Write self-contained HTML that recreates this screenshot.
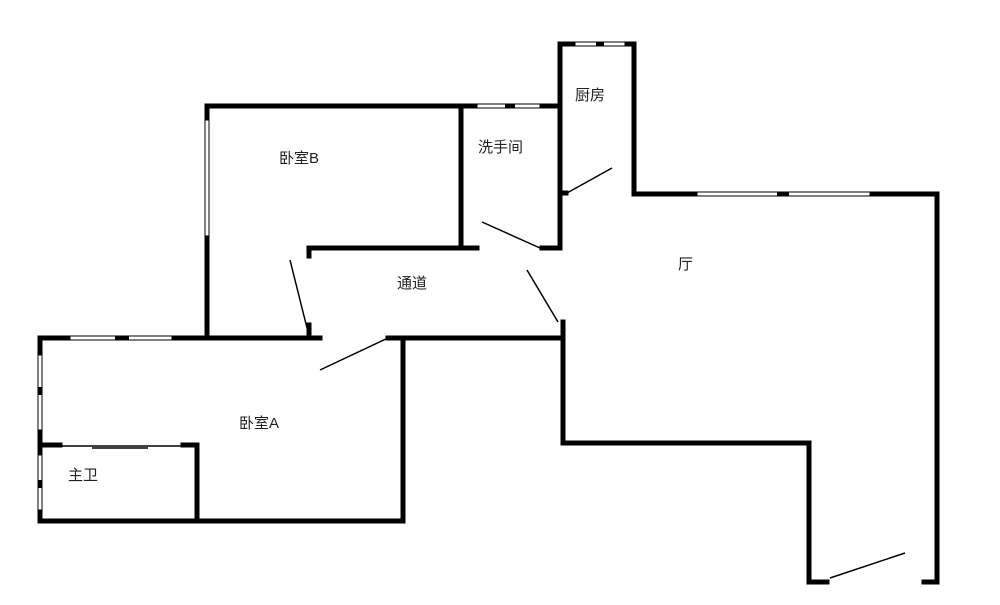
<!DOCTYPE html>
<html><head><meta charset="utf-8"><style>
body{margin:0;background:#fff;width:1000px;height:605px;overflow:hidden}
svg{display:block}
text{font-family:"Liberation Sans","Noto Sans CJK SC",sans-serif;font-size:15px;fill:#222}
</style></head><body>
<svg width="1000" height="605" viewBox="0 0 1000 605">
<g stroke="#000" stroke-width="5" fill="none" stroke-linecap="square">
<!-- Bedroom B -->
<line x1="207" y1="106" x2="477" y2="106"/>
<line x1="540" y1="106" x2="560" y2="106"/>
<line x1="207" y1="106" x2="207" y2="120"/>
<line x1="207" y1="236" x2="207" y2="338"/>
<line x1="461" y1="106" x2="461" y2="248"/>
<line x1="309" y1="248" x2="477" y2="248"/>
<line x1="309" y1="248" x2="309" y2="256"/>
<!-- bathroom/kitchen -->
<line x1="560" y1="44" x2="560" y2="248"/>
<line x1="542" y1="248" x2="560" y2="248"/>
<line x1="560" y1="44" x2="575" y2="44"/>
<line x1="625" y1="44" x2="634" y2="44"/>
<line x1="634" y1="44" x2="634" y2="194"/>
<line x1="560" y1="193" x2="566" y2="193"/>
<!-- living -->
<line x1="634" y1="194" x2="697" y2="194"/>
<line x1="870" y1="194" x2="937" y2="194"/>
<line x1="937" y1="194" x2="937" y2="582"/>
<line x1="924" y1="582" x2="937" y2="582"/>
<line x1="809" y1="582" x2="827" y2="582"/>
<line x1="809" y1="443" x2="809" y2="582"/>
<line x1="565" y1="443" x2="809" y2="443"/>
<line x1="563" y1="322" x2="563" y2="443"/>
<!-- corridor bottom -->
<line x1="388" y1="338" x2="563" y2="338"/>
<!-- Bedroom A -->
<line x1="40" y1="338" x2="70" y2="338"/>
<line x1="172" y1="338" x2="320" y2="338"/>
<line x1="403" y1="338" x2="403" y2="521"/>
<line x1="40" y1="521" x2="403" y2="521"/>
<line x1="40" y1="338" x2="40" y2="355"/>
<line x1="40" y1="430" x2="40" y2="455"/>
<line x1="40" y1="510" x2="40" y2="521"/>
<line x1="40" y1="445" x2="60" y2="445"/>
<line x1="183" y1="445" x2="197" y2="445"/>
<line x1="197" y1="445" x2="197" y2="521"/>
<line x1="309" y1="325" x2="309" y2="338"/>
</g>
<!-- windows -->
<g stroke="#000" stroke-width="1" fill="#fff">
<rect x="477" y="104" width="63" height="4"/>
<rect x="575" y="42" width="50" height="4"/>
<rect x="697" y="192" width="173" height="4"/>
<rect x="70" y="336" width="102" height="4"/>
<rect x="205" y="120" width="4" height="116"/>
<rect x="38" y="355" width="4" height="75"/>
<rect x="38" y="455" width="4" height="55"/>
</g>
<g fill="#000">
<rect x="505" y="104" width="10" height="4"/>
<rect x="596" y="42" width="8" height="4"/>
<rect x="777" y="192" width="12" height="4"/>
<rect x="115" y="336" width="14" height="4"/>
<rect x="38" y="387" width="4" height="8"/>
<rect x="38" y="480" width="4" height="8"/>
<rect x="935" y="358" width="4" height="18"/>
</g>
<g stroke="#000" stroke-width="1.5">
<line x1="60" y1="446" x2="183" y2="446"/>
<line x1="92" y1="448" x2="148" y2="448"/>
<line x1="290" y1="260" x2="307" y2="328"/>
<line x1="320" y1="370" x2="388" y2="338"/>
<line x1="482" y1="222" x2="540" y2="248"/>
<line x1="567" y1="193" x2="612" y2="168"/>
<line x1="527" y1="270" x2="558" y2="322"/>
<line x1="830" y1="578" x2="905" y2="553"/>
</g>
<text x="279" y="163">卧室B</text>
<text x="478" y="152">洗手间</text>
<text x="575" y="100">厨房</text>
<text x="397" y="288">通道</text>
<text x="678" y="269">厅</text>
<text x="239" y="428">卧室A</text>
<text x="68" y="480">主卫</text>
</svg>
</body></html>
